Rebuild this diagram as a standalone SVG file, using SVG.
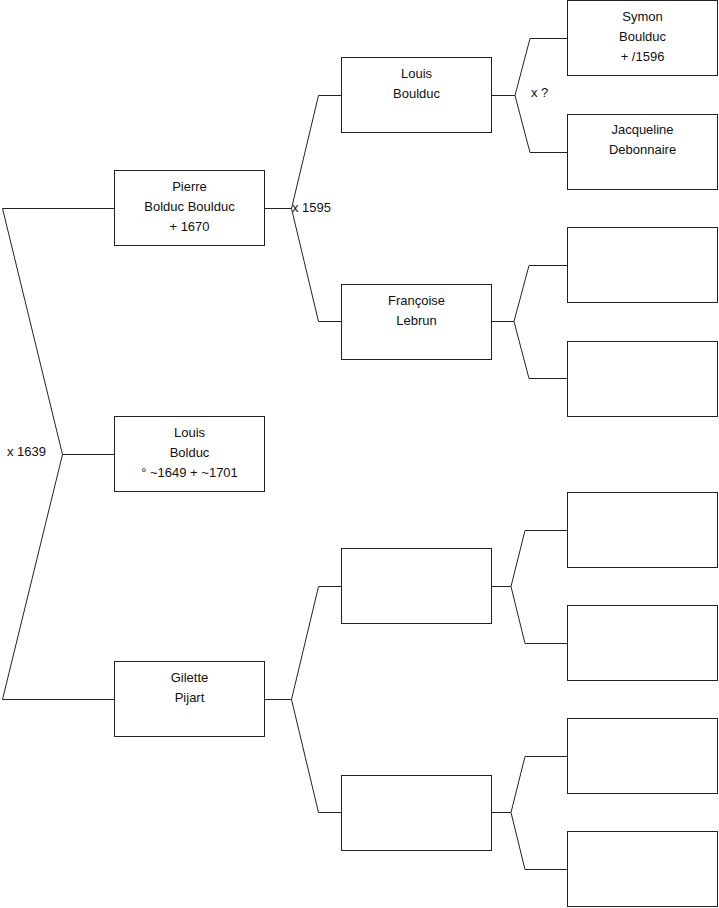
<svg xmlns="http://www.w3.org/2000/svg" width="719" height="908" viewBox="0 0 719 908">
<style>
.box{fill:#fff;stroke:#222;stroke-width:1}
.ln{fill:none;stroke:#222;stroke-width:1}
text{font-family:"Liberation Sans",Arial,sans-serif;font-size:13px;fill:#111}
.c{text-anchor:middle}
</style>
<rect width="719" height="908" fill="#fff"/>
<g id="connectors">
<polyline class="ln" points="114,699.5 2.5,699.5 62.5,454.5 2.5,208.5 114,208.5"/>
<line class="ln" x1="62.5" y1="454.5" x2="114" y2="454.5"/>
<polyline class="ln" points="341,95.5 318.5,95.5 291.5,208.5 318.5,321.5 341,321.5"/>
<line class="ln" x1="265" y1="208.5" x2="291.5" y2="208.5"/>
<polyline class="ln" points="341,586.5 318.5,586.5 291.5,699.5 318.5,812.5 341,812.5"/>
<line class="ln" x1="265" y1="699.5" x2="291.5" y2="699.5"/>
<polyline class="ln" points="567,38.5 530,38.5 515,95.5 530,152.5 567,152.5"/>
<line class="ln" x1="492" y1="95.5" x2="515" y2="95.5"/>
<polyline class="ln" points="567,265.5 529,265.5 514,321.5 529,378.5 567,378.5"/>
<line class="ln" x1="492" y1="321.5" x2="514" y2="321.5"/>
<polyline class="ln" points="567,530.5 525,530.5 511,586.5 525,643.5 567,643.5"/>
<line class="ln" x1="492" y1="586.5" x2="511" y2="586.5"/>
<polyline class="ln" points="567,756.5 525,756.5 511,812.5 525,869.5 567,869.5"/>
<line class="ln" x1="492" y1="812.5" x2="511" y2="812.5"/>
<text x="292" y="212">x 1595</text>
<text x="531" y="97">x ?</text>
<text x="7" y="456">x 1639</text>
</g>
<g id="pierre"><rect class="box" x="114.5" y="170.5" width="150" height="75"/>
<text class="c" x="189.5" y="191">Pierre</text><text class="c" x="189.5" y="211">Bolduc Boulduc</text><text class="c" x="189.5" y="231">+ 1670</text></g>
<g id="louis-child"><rect class="box" x="114.5" y="416.5" width="150" height="75"/>
<text class="c" x="189.5" y="437">Louis</text><text class="c" x="189.5" y="457">Bolduc</text><text class="c" x="189.5" y="477">° ~1649 + ~1701</text></g>
<g id="gilette"><rect class="box" x="114.5" y="661.5" width="150" height="75"/>
<text class="c" x="189.5" y="682">Gilette</text><text class="c" x="189.5" y="702">Pijart</text></g>
<g id="louis"><rect class="box" x="341.5" y="57.5" width="150" height="75"/>
<text class="c" x="416.5" y="78">Louis</text><text class="c" x="416.5" y="98">Boulduc</text></g>
<g id="francoise"><rect class="box" x="341.5" y="284.5" width="150" height="75"/>
<text class="c" x="416.5" y="305">Françoise</text><text class="c" x="416.5" y="325">Lebrun</text></g>
<g id="g2-3"><rect class="box" x="341.5" y="548.5" width="150" height="75"/></g>
<g id="g2-4"><rect class="box" x="341.5" y="775.5" width="150" height="75"/></g>
<g id="symon"><rect class="box" x="567.5" y="0.5" width="150" height="75"/>
<text class="c" x="642.5" y="21">Symon</text><text class="c" x="642.5" y="41">Boulduc</text><text class="c" x="642.5" y="61">+ /1596</text></g>
<g id="jacqueline"><rect class="box" x="567.5" y="114.5" width="150" height="75"/>
<text class="c" x="642.5" y="134">Jacqueline</text><text class="c" x="642.5" y="154">Debonnaire</text></g>
<g id="g3-3"><rect class="box" x="567.5" y="227.5" width="150" height="75"/></g>
<g id="g3-4"><rect class="box" x="567.5" y="341.5" width="150" height="75"/></g>
<g id="g3-5"><rect class="box" x="567.5" y="492.5" width="150" height="75"/></g>
<g id="g3-6"><rect class="box" x="567.5" y="605.5" width="150" height="75"/></g>
<g id="g3-7"><rect class="box" x="567.5" y="718.5" width="150" height="75"/></g>
<g id="g3-8"><rect class="box" x="567.5" y="831.5" width="150" height="75"/></g>
</svg>
